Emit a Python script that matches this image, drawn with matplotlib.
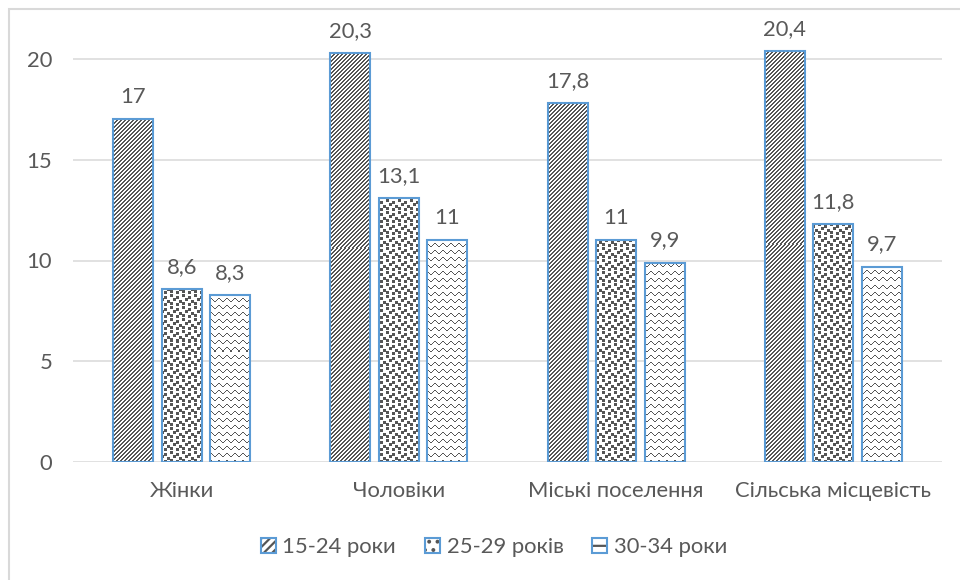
import numpy as np
import matplotlib
matplotlib.use('Agg')
import matplotlib.pyplot as plt
from matplotlib.patches import Patch, Rectangle
from matplotlib.legend_handler import HandlerTuple

# ---- data -------------------------------------------------------------
categories = ['Жінки', 'Чоловіки', 'Міські поселення', 'Сільська місцевість']
series_names = ['15-24 роки', '25-29 років', '30-34 роки']
age_15_24 = [17.0, 20.3, 17.8, 20.4]
age_25_29 = [8.6, 13.1, 11.0, 11.8]
age_30_34 = [8.3, 11.0, 9.9, 9.7]
y_ticks = [0, 5, 10, 15, 20]

# ---- style ------------------------------------------------------------
TEXT = '#595959'
EDGE = '#5B9BD5'
INK = '#555555'
GRID = '#D9D9D9'
FS = 15.8

plt.rcParams['font.family'] = ['Lato', 'DejaVu Sans']
plt.rcParams['hatch.linewidth'] = 1.6

W, H, DPI = 960, 580, 100
fig = plt.figure(figsize=(W / DPI, H / DPI), dpi=DPI)

# plot area in device pixels
ax_l, ax_b, ax_w, ax_h = 73, 118, 869, 443
ax = fig.add_axes([ax_l / W, ax_b / H, ax_w / W, ax_h / H])
px_per_unit = 20.15
ymax = ax_h / px_per_unit
x_lo, x_hi = -0.5, len(categories) - 0.5

# ---- fill patterns at device-pixel resolution ---------------------------
rr, cc = np.indices((ax_h, ax_w))

# dark upward diagonal
diag_mask = ((cc + rr) % 4) < 2

# large confetti: 3x3 squares scattered over a 12x12 tile
conf_tile = np.zeros((12, 12), bool)
for r0, c0 in [(0, 1), (2, 7), (4, 4), (6, 10), (8, 1), (9, 7)]:
    for dr in range(3):
        for dc in range(3):
            conf_tile[(r0 + dr) % 12, (c0 + dc) % 12] = True
conf_mask = conf_tile[rr % 12, cc % 12]

# wave
wave_off = np.array([1, 0, 0, 1, 2, 3, 3, 2])
wave_row = (rr - wave_off[cc % 8]) % 7
wave_mask = wave_row == 0

ink_rgb = np.array(matplotlib.colors.to_rgb(INK))


def texture(mask):
    img = np.ones((ax_h, ax_w, 3))
    img[mask] = ink_rgb
    return img


textures = [texture(diag_mask), texture(conf_mask), texture(wave_mask)]

# ---- bars -------------------------------------------------------------
x = np.arange(len(categories))
bar_w = 40 / (ax_w / len(categories))
step = 48.5 / (ax_w / len(categories))
series = [age_15_24, age_25_29, age_30_34]

ax.set_axisbelow(True)
ax.yaxis.grid(True, color=GRID, lw=1.1)

for i, (vals, tex) in enumerate(zip(series, textures)):
    pos = x + (i - 1) * step
    bars = ax.bar(pos, vals, bar_w, facecolor='none', edgecolor=EDGE,
                  lw=1.5, zorder=3)
    for b in bars:
        im = ax.imshow(tex, extent=(x_lo, x_hi, 0, ymax), origin='upper',
                       aspect='auto', interpolation='nearest', zorder=2)
        im.set_clip_path(b)
    for xp, v in zip(pos, vals):
        ax.annotate(('%g' % v).replace('.', ','), (xp, v),
                    xytext=(0, 22 * 72 / DPI), textcoords='offset points',
                    ha='center', va='center', color=TEXT, fontsize=FS)

ax.set_xlim(x_lo, x_hi)
ax.set_ylim(0, ymax)
ax.set_yticks(y_ticks)
ax.set_xticks(x)
ax.set_xticklabels(categories)
ax.tick_params(axis='both', length=0, labelsize=FS, labelcolor=TEXT)
ax.tick_params(axis='y', pad=15)
ax.tick_params(axis='x', pad=14)
for s in ax.spines.values():
    s.set_visible(False)

# ---- legend -----------------------------------------------------------
hatches = ['////', '..', '--']
handles = [(Patch(facecolor='white', edgecolor=INK, hatch=h, lw=0),
            Patch(facecolor='none', edgecolor=EDGE, lw=1.5))
           for h in hatches]
fig.legend(handles, series_names, ncol=3, loc='center',
           bbox_to_anchor=(494 / W, 1 - 547 / H),
           handler_map={tuple: HandlerTuple(ndivide=1, pad=0)},
           frameon=False, fontsize=FS, labelcolor=TEXT,
           handlelength=0.7, handleheight=0.7, handletextpad=0.3,
           columnspacing=1.3)

# chart frame
fig.add_artist(Rectangle((9 / W, -0.1), 2, 1.1 - 9 / H,
                         transform=fig.transFigure, fill=False,
                         edgecolor=GRID, lw=1.5))

fig.savefig('out.png', dpi=DPI)
